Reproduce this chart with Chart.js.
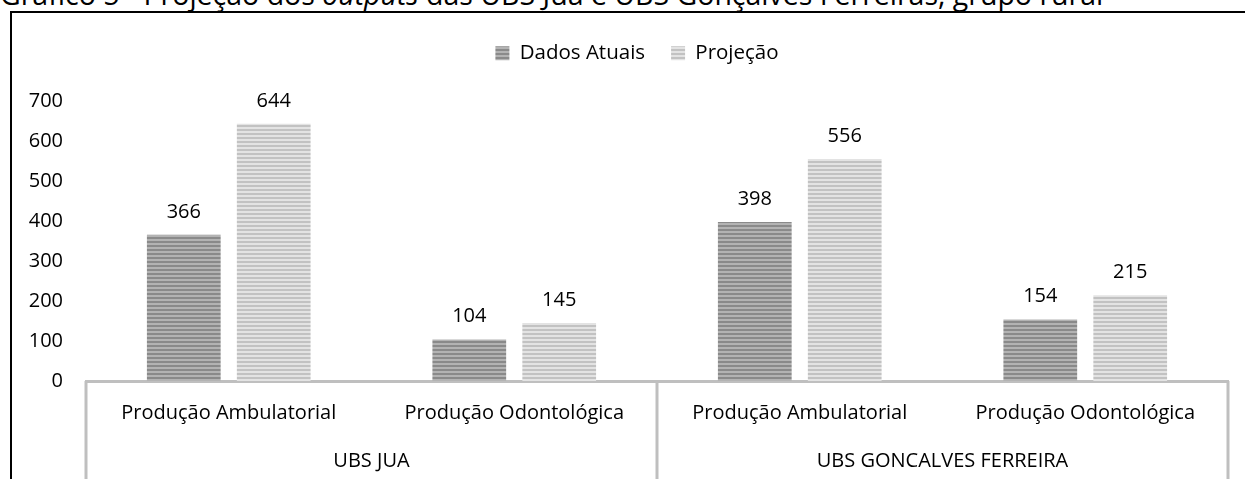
<!DOCTYPE html>
<html>
<head>
<meta charset="utf-8">
<script src="https://cdn.jsdelivr.net/npm/chart.js@4.4.1/dist/chart.umd.min.js"></script>
<style>
  html, body { margin: 0; padding: 0; background: #fff; overflow: hidden; width: 1245px; height: 479px; }
  #title { position: absolute; left: 0; top: -25px; font-family: 'Open Sans', sans-serif; font-size: 28.5px; white-space: nowrap; color: #000; }
  #frame { position: absolute; left: 10px; top: 11px; width: 1300px; height: 520px; border-left: 2px solid #000; border-top: 2px solid #000; }
  #wrap { position: absolute; left: 0; top: 0; width: 1250px; height: 480px; }
</style>
</head>
<body>
<div id="title">Gráfico 5 - Projeção dos <i>outputs</i> das UBS Jua e UBS Gonçalves Ferreiras, grupo rural</div>
<div id="frame"><div id="wrap"><canvas id="chart"></canvas></div></div>
<script>
// --- data ---
const groups = ['UBS JUA', 'UBS GONCALVES FERREIRA'];
const categories = ['Produção Ambulatorial', 'Produção Odontológica', 'Produção Ambulatorial', 'Produção Odontológica'];
const dadosAtuais = [366, 104, 398, 154];
const projecao = [644, 145, 556, 215];
const yMin = 0, yMax = 700, yStep = 100;

const FONT = "'Open Sans', sans-serif";
const ctx = document.getElementById('chart').getContext('2d');

// horizontal striped fill, like the original bars
function stripes(a, b) {
    const c = document.createElement('canvas');
    c.width = 4; c.height = 4;
    const g = c.getContext('2d');
    g.fillStyle = a; g.fillRect(0, 0, 4, 2);
    g.fillStyle = b; g.fillRect(0, 2, 4, 2);
    return ctx.createPattern(c, 'repeat');
}

// value labels above the bars
const valueLabels = {
    id: 'valueLabels',
    afterDatasetsDraw(chart) {
        const c = chart.ctx;
        c.save();
        c.font = `20px ${FONT}`;
        c.fillStyle = '#000';
        c.textAlign = 'center';
        c.textBaseline = 'middle';
        chart.data.datasets.forEach((ds, i) => {
            chart.getDatasetMeta(i).data.forEach((bar, j) => {
                c.fillText(ds.data[j], bar.x, bar.y - 23);
            });
        });
        c.restore();
    }
};

// group separators below the axis
const groupLines = {
    id: 'groupLines',
    afterDraw(chart) {
        const x = chart.scales.x;
        const c = chart.ctx;
        c.save();
        c.strokeStyle = '#bfbfbf';
        c.lineWidth = 3;
        [-0.5, 1.5, 3.5].forEach(v => {
            const px = Math.round(x.getPixelForValue(v));
            c.beginPath();
            c.moveTo(px, x.top);
            c.lineTo(px, chart.height);
            c.stroke();
        });
        c.restore();
    }
};

// extra room between legend and plot
const legendGap = {
    id: 'legendGap',
    beforeInit(chart) {
        const fit = chart.legend.fit;
        chart.legend.fit = function () {
            fit.call(this);
            this.height += 28;
        };
    }
};

new Chart(ctx, {
    type: 'bar',
    data: {
        labels: categories,
        datasets: [
            {
                label: 'Dados Atuais',
                data: dadosAtuais,
                backgroundColor: stripes('#8a8a8a', '#b3b3b3'),
                borderWidth: 0,
                categoryPercentage: 0.63,
                barPercentage: 0.82
            },
            {
                label: 'Projeção',
                data: projecao,
                backgroundColor: stripes('#c2c2c2', '#e3e3e3'),
                borderWidth: 0,
                categoryPercentage: 0.63,
                barPercentage: 0.82
            }
        ]
    },
    options: {
        responsive: true,
        maintainAspectRatio: false,
        animation: false,
        layout: { padding: { top: 4, right: 0, left: 0, bottom: 0 } },
        plugins: {
            legend: {
                position: 'top',
                labels: {
                    color: '#000',
                    font: { family: FONT, size: 20.5 },
                    boxWidth: 14,
                    boxHeight: 14,
                    padding: 26
                }
            },
            tooltip: { enabled: false }
        },
        scales: {
            y: {
                min: yMin,
                max: yMax,
                ticks: { stepSize: yStep, padding: 15, color: '#000', font: { family: FONT, size: 20 } },
                grid: { display: false },
                border: { display: false },
                afterFit(s) { s.width = 74; }
            },
            yr: {
                position: 'right',
                display: true,
                ticks: { display: false },
                grid: { display: false },
                border: { display: false },
                afterFit(s) { s.width = 34; }
            },
            x: {
                weight: 0,
                ticks: { padding: 12, color: '#000', font: { family: FONT, size: 20 }, maxRotation: 0, autoSkip: false },
                grid: { display: false },
                border: { color: '#bfbfbf', width: 3 },
                afterFit(s) { s.height = 56; }
            },
            x2: {
                type: 'category',
                labels: groups,
                position: 'bottom',
                offset: true,
                weight: 1,
                ticks: { padding: 4, color: '#000', font: { family: FONT, size: 20 }, maxRotation: 0 },
                grid: { display: false },
                border: { display: false },
                afterFit(s) { s.height = 56; }
            }
        }
    },
    plugins: [valueLabels, groupLines, legendGap]
});
</script>
</body>
</html>
